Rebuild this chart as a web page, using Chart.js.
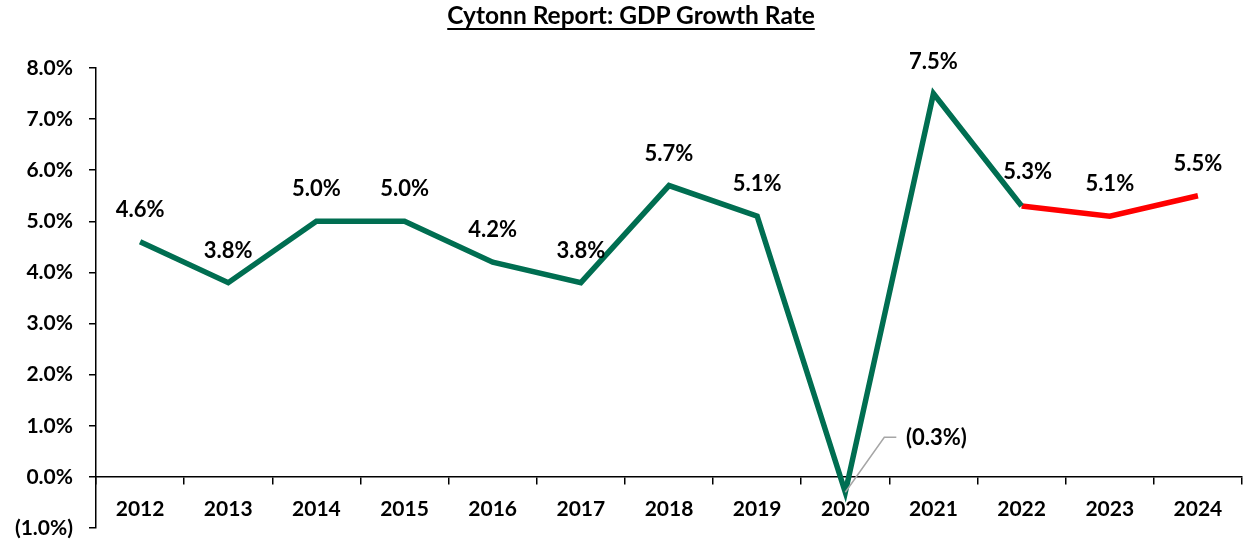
<!DOCTYPE html>
<html>
<head>
<meta charset="utf-8">
<script src="https://cdn.jsdelivr.net/npm/chart.js@4"></script>
<style>
  html, body { margin: 0; padding: 0; background: #fff; }
  #wrap { position: relative; width: 1246px; height: 541px; }
  #title { position: absolute; left: 0; top: 0px; width: 1262px; text-align: center;
    font: bold 24.5px Lato, sans-serif; color: #000; text-decoration: underline;
    text-underline-offset: 4px; text-decoration-thickness: 2px; }
  canvas { position: absolute; left: 0; top: 0; }
</style>
</head>
<body>
<div id="wrap">
  <canvas id="c" width="1246" height="541"></canvas>
  <div id="title">Cytonn Report: GDP Growth Rate</div>
</div>
<script>
const years = ['2012','2013','2014','2015','2016','2017','2018','2019','2020','2021','2022','2023','2024'];
const actualGrowth    = [4.6, 3.8, 5.0, 5.0, 4.2, 3.8, 5.7, 5.1, -0.3, 7.5, 5.3, null, null];
const projectedGrowth = [null, null, null, null, null, null, null, null, null, null, 5.3, 5.1, 5.5];
const yMin = -1, yMax = 8, yStep = 1;

const GREEN = '#006E51';
const RED = '#FF0000';
const FONT = 'Lato, sans-serif';

function fmtPct(v) {
  return v < 0 ? '(' + Math.abs(v).toFixed(1) + '%)' : v.toFixed(1) + '%';
}

const labelPlugin = {
  id: 'valueLabels',
  afterDatasetsDraw(chart) {
    const ctx = chart.ctx;
    const m0 = chart.getDatasetMeta(0), m1 = chart.getDatasetMeta(1);
    ctx.save();
    ctx.font = 'bold 22px ' + FONT;
    ctx.fillStyle = '#000';
    ctx.textAlign = 'center';
    ctx.textBaseline = 'middle';
    years.forEach((y, i) => {
      let v, pt;
      if (actualGrowth[i] !== null) { v = actualGrowth[i]; pt = m0.data[i]; }
      else { v = projectedGrowth[i]; pt = m1.data[i]; }
      if (v === null || !pt) return;
      let lx = pt.x, ly = pt.y - 32;
      if (v < 0) {
        lx = pt.x + 91; ly = pt.y - 54;
        ctx.save();
        ctx.strokeStyle = '#A6A6A6';
        ctx.lineWidth = 1.5;
        ctx.beginPath();
        ctx.moveTo(pt.x, pt.y);
        ctx.lineTo(pt.x + 39, pt.y - 55);
        ctx.lineTo(pt.x + 51, pt.y - 55);
        ctx.stroke();
        ctx.restore();
      } else if (i === 10) {
        lx = pt.x + 6; ly = pt.y - 34;
      }
      ctx.fillText(fmtPct(v), lx, ly);
    });
    ctx.restore();
  }
};

new Chart(document.getElementById('c'), {
  type: 'line',
  data: {
    labels: years,
    datasets: [
      { data: actualGrowth, borderColor: GREEN, borderWidth: 5.5, pointRadius: 0, tension: 0, spanGaps: false },
      { data: projectedGrowth, borderColor: RED, borderWidth: 5.5, pointRadius: 0, tension: 0, spanGaps: false }
    ]
  },
  options: {
    responsive: false,
    animation: false,
    devicePixelRatio: 1,
    layout: { padding: { top: 68, bottom: 13, left: 0, right: 4 } },
    plugins: { legend: { display: false }, tooltip: { enabled: false }, title: { display: false } },
    scales: {
      x: {
        type: 'category',
        position: { y: 0 },
        offset: true,
        grid: { display: true, drawOnChartArea: false, drawTicks: true, tickLength: 7, offset: true, color: '#000', lineWidth: 1.5 },
        border: { display: true, color: '#000', width: 1.5 },
        ticks: { color: '#000', font: { family: FONT, size: 21, weight: 'bold' }, padding: 13, maxRotation: 0, autoSkip: false }
      },
      y: {
        min: yMin, max: yMax,
        afterFit(scale) { scale.width = 96; scale.paddingTop = 0; scale.paddingBottom = 0; },
        grid: { display: true, drawOnChartArea: false, drawTicks: true, tickLength: 7, color: '#000', lineWidth: 1.5 },
        border: { display: true, color: '#000', width: 1.5 },
        ticks: { stepSize: yStep, color: '#000', font: { family: FONT, size: 21, weight: 'bold' }, padding: 16, callback: (v) => fmtPct(v) }
      }
    }
  },
  plugins: [labelPlugin]
});
</script>
</body>
</html>
